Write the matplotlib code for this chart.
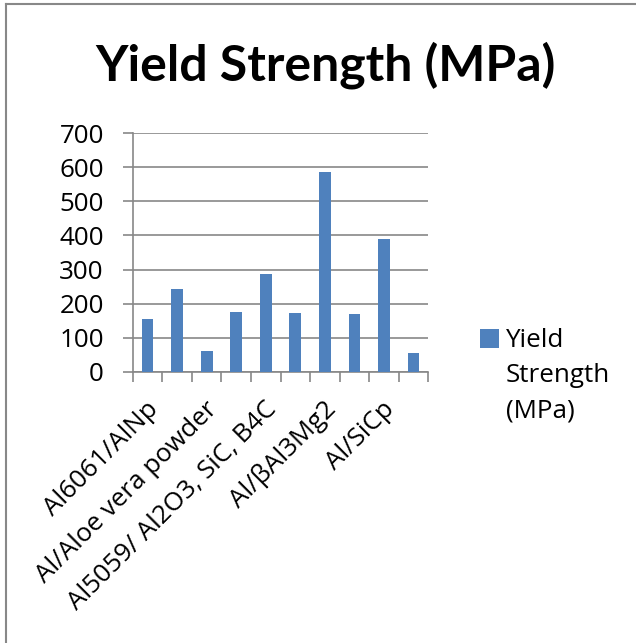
import matplotlib.pyplot as plt
from matplotlib.patches import Rectangle
from matplotlib.legend_handler import HandlerPatch, update_from_first_child
from matplotlib.container import BarContainer
from matplotlib.transforms import ScaledTranslation
import numpy as np

# Données
# (les étiquettes des catégories paires ne sont pas affichées sur l'original)
categories = ['Al6061/AlNp', '', 'Al/Aloe vera powder', '', 'Al5059/ Al2O3, SiC, B4C',
              '', 'Al/βAl3Mg2', '', 'Al/SiCp', '']
yield_strength = [155, 244, 62, 176, 288, 173, 587, 168, 391, 55]
y_ticks = [0, 100, 200, 300, 400, 500, 600, 700]

bar_color = '#4F81BD'
grid_color = '#878787'
font = ['Open Sans', 'DejaVu Sans']
fsize = 18.7

fig = plt.figure(figsize=(6.36, 6.43), dpi=100)
ax = fig.add_axes([0.2086, 0.4219, 0.4649, 0.3708])

x = np.arange(1, len(yield_strength) + 1)
ax.bar(x, yield_strength, width=0.4, color=bar_color, zorder=3,
       label='Yield\nStrength\n(MPa)')

# Axes et grille
ax.set_xlim(0.5, len(yield_strength) + 0.5)
ax.set_ylim(0, 700)
ax.set_yticks(y_ticks)
ax.set_yticklabels([str(v) for v in y_ticks], fontsize=fsize, family=font)
ax.yaxis.grid(True, color=grid_color, linewidth=1.2, zorder=0)
for s in ['top', 'right']:
    ax.spines[s].set_visible(False)
for s in ['left', 'bottom']:
    ax.spines[s].set_color(grid_color)
    ax.spines[s].set_linewidth(1.2)
ax.tick_params(axis='y', length=7, width=1.2, color=grid_color, pad=13.7)

# Étiquettes affichées une sur deux
shown = [i for i, c in enumerate(categories) if c]
ax.set_xticks(x[shown])
ax.set_xticklabels([categories[i] for i in shown], rotation=45, ha='right',
                   va='center', rotation_mode='anchor', fontsize=fsize, family=font)
ax.tick_params(axis='x', which='major', length=0, pad=24.4)
shift = ScaledTranslation(7 / 100, 0, fig.dpi_scale_trans)
for lab in ax.get_xticklabels():
    lab.set_transform(lab.get_transform() + shift)
ax.set_xticks(np.arange(0.5, len(yield_strength) + 1, 1), minor=True)
ax.tick_params(axis='x', which='minor', length=7, width=1.2, color=grid_color)

# Titre
fig.text(0.511, 0.899, 'Yield Strength (MPa)', ha='center', va='center',
         fontsize=36, fontweight='bold', family=['Lato', 'DejaVu Sans'])


# Légende : carré aligné sur la première ligne
def top_square(legend, orig_handle, xdescent, ydescent, width, height, fontsize):
    return Rectangle((-xdescent, -ydescent + 27), width, height)


leg = fig.legend(loc='upper left', bbox_to_anchor=(0.755, 0.4895), frameon=False,
                 prop={'family': font, 'size': fsize}, handlelength=0.73,
                 handleheight=0.73, handletextpad=0.25, borderaxespad=0, borderpad=0,
                 handler_map={BarContainer: HandlerPatch(patch_func=top_square,
                                                         update_func=update_from_first_child)})
for t in leg.get_texts():
    t.set_linespacing(1.53)

# Cadre gris autour du graphique
fig.add_artist(plt.Line2D([0.0095, 0.0095], [0, 0.9938], color='#888888', linewidth=1.5))
fig.add_artist(plt.Line2D([0.0095, 1], [0.9938, 0.9938], color='#888888', linewidth=1.5))

plt.savefig('out.png', dpi=100)
